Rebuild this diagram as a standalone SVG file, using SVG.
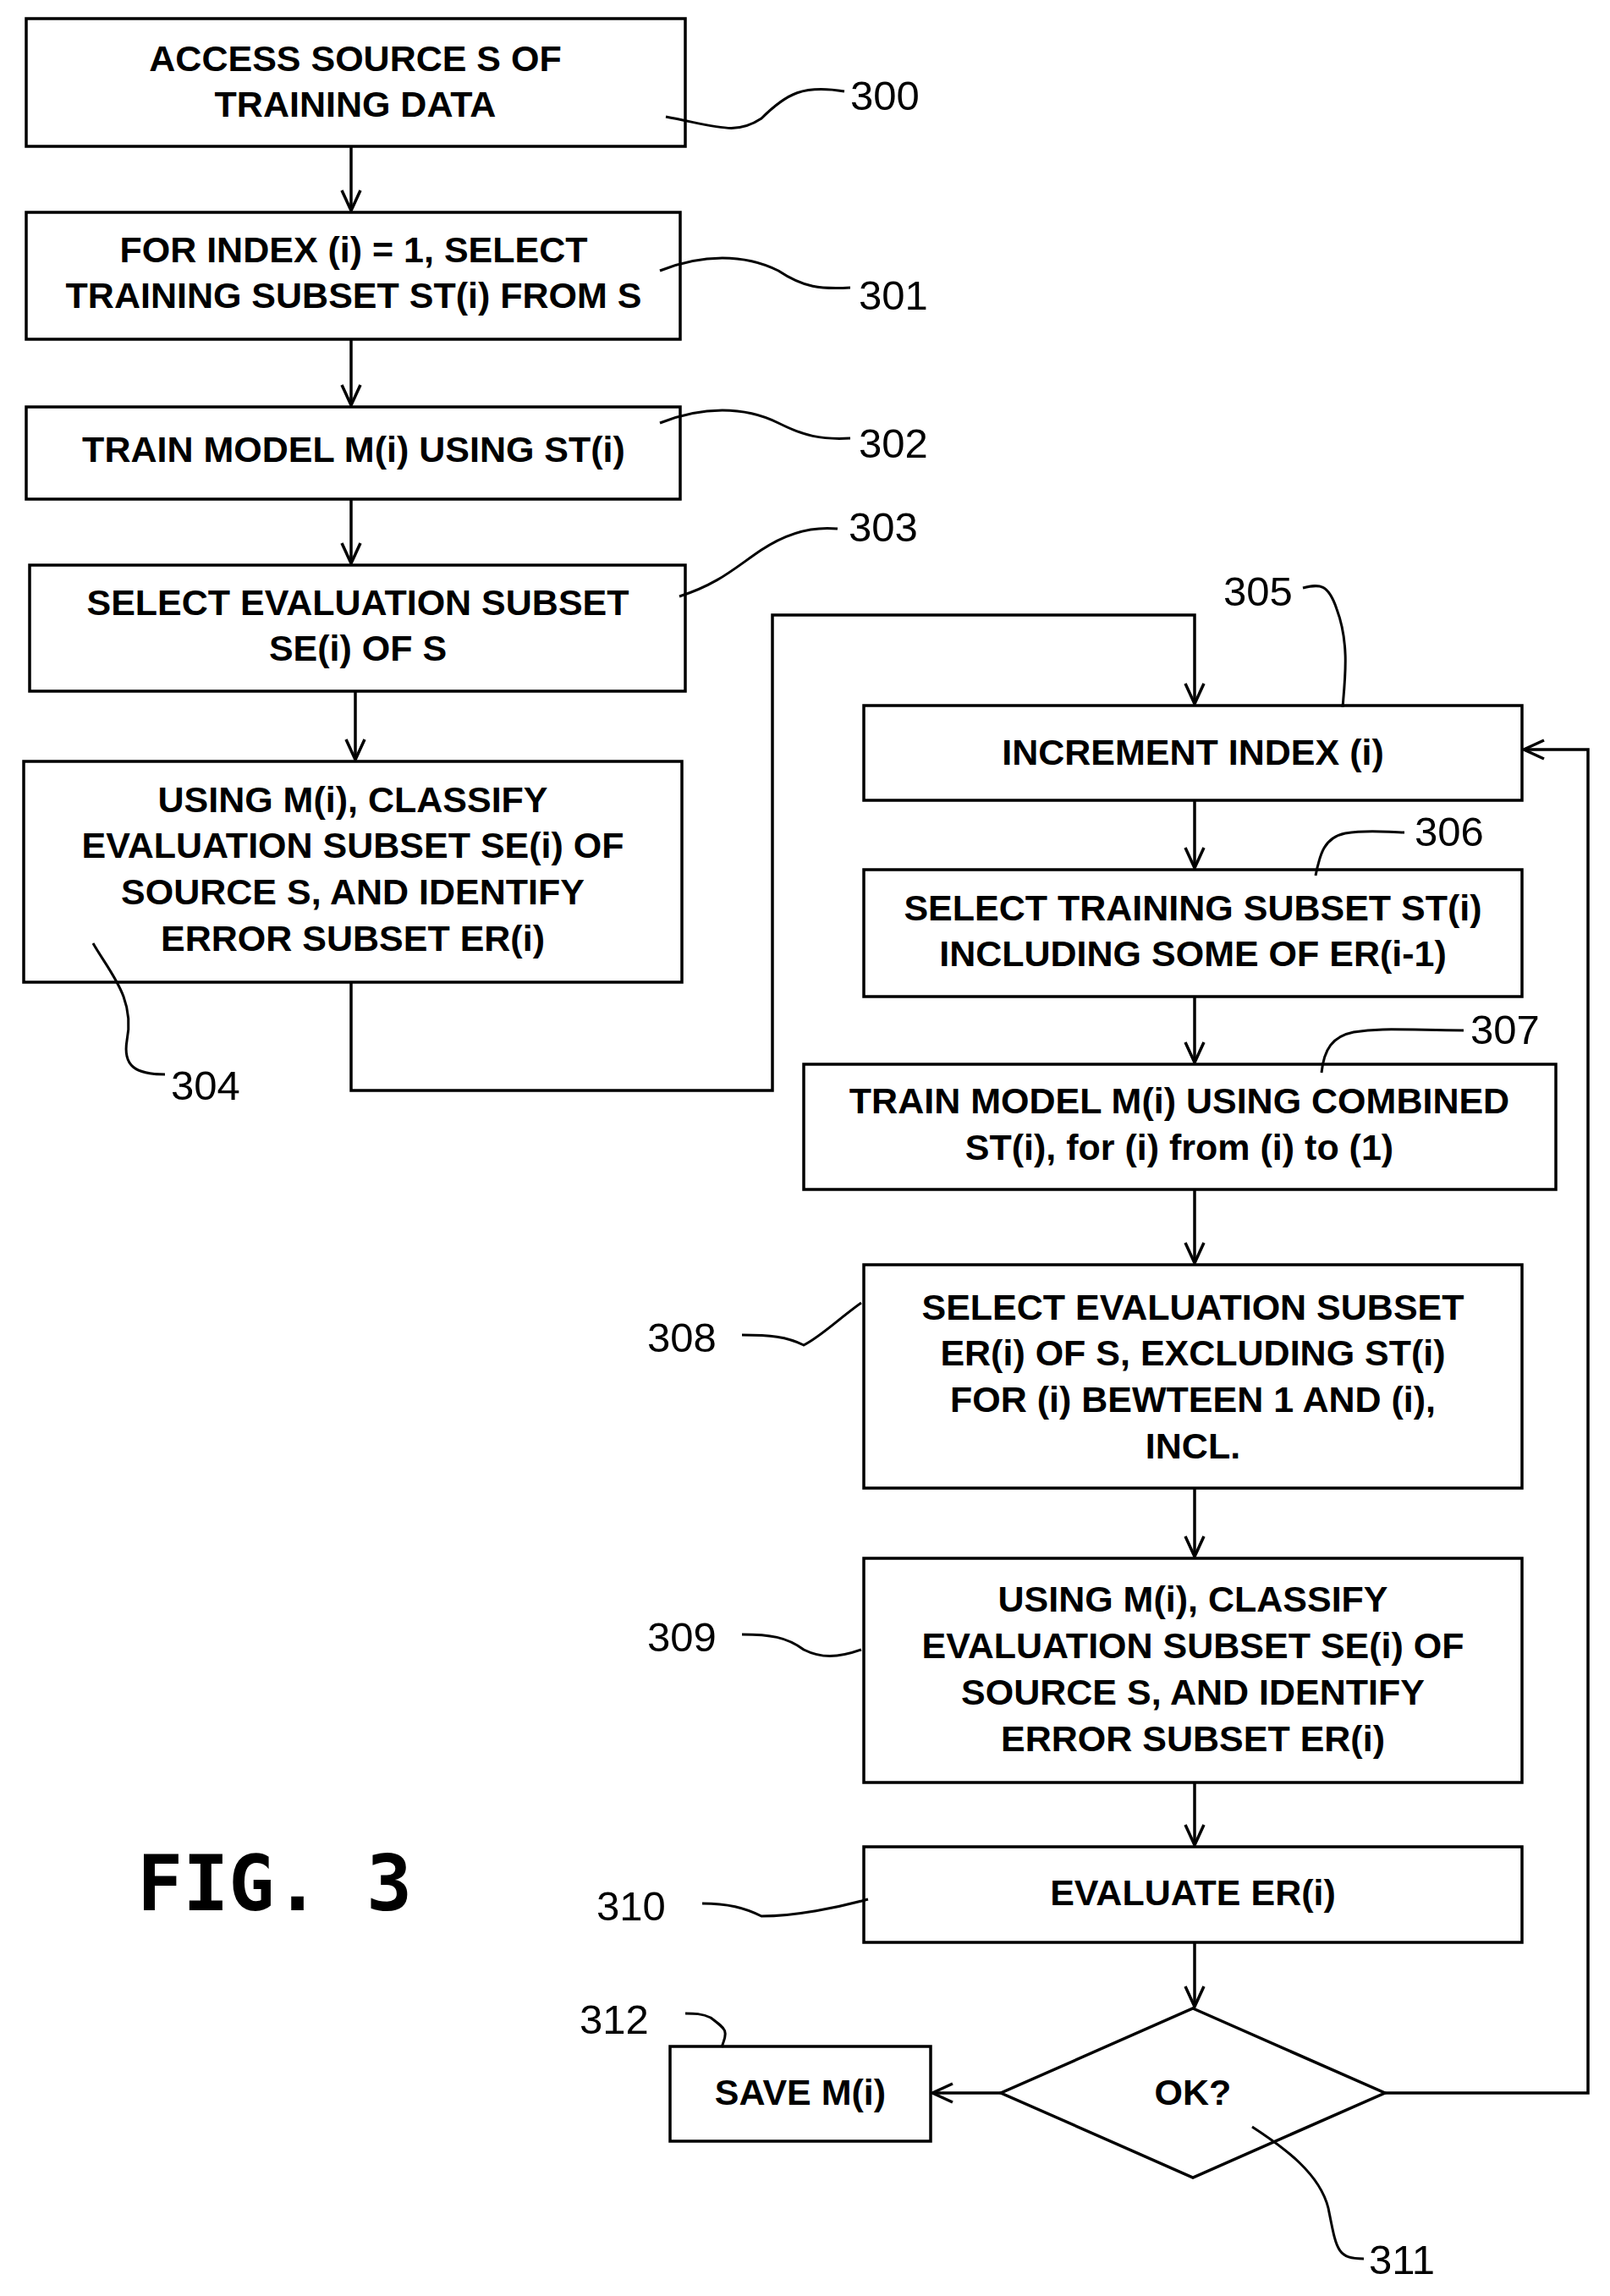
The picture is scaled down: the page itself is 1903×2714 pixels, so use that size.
<svg xmlns="http://www.w3.org/2000/svg" width="1903" height="2714" viewBox="0 0 1903 2714">
<style>
.b{fill:#fff;stroke:#000;stroke-width:3.5}
.t{font-family:"Liberation Sans",Arial,sans-serif;font-weight:bold;font-size:43px;text-anchor:middle}
.l{font-family:"Liberation Sans",Arial,sans-serif;font-size:49px}
.c{fill:none;stroke:#000;stroke-width:3.5}
.q{fill:none;stroke:#000;stroke-width:3}
</style>
<defs>
<marker id="h" markerWidth="30" markerHeight="30" refX="26" refY="13" orient="auto" markerUnits="userSpaceOnUse"><path d="M2,2 L26,13 L2,24" fill="none" stroke="#000" stroke-width="3.5"/></marker></defs>
<rect width="1903" height="2714" fill="#fff"/>
<g id="connectors">
<path class="c" d="M415,173 V249" marker-end="url(#h)"/>
<path class="c" d="M415,401 V479" marker-end="url(#h)"/>
<path class="c" d="M415,590 V666" marker-end="url(#h)"/>
<path class="c" d="M420,817 V898" marker-end="url(#h)"/>
<path class="c" d="M415,1161 V1289 H913 V727 H1412 V832" marker-end="url(#h)"/>
<path class="c" d="M1412,946 V1026" marker-end="url(#h)"/>
<path class="c" d="M1412,1178 V1256" marker-end="url(#h)"/>
<path class="c" d="M1412,1406 V1493" marker-end="url(#h)"/>
<path class="c" d="M1412,1759 V1840" marker-end="url(#h)"/>
<path class="c" d="M1412,2107 V2181" marker-end="url(#h)"/>
<path class="c" d="M1412,2296 V2372" marker-end="url(#h)"/>
<path class="c" d="M1637,2474 H1877 V886 H1801" marker-end="url(#h)"/>
<path class="c" d="M1183,2474 H1102" marker-end="url(#h)"/>
</g>
<g id="n300"><rect class="b" x="31" y="22" width="779" height="151"/><text class="t" x="420" y="84">ACCESS SOURCE S OF</text><text class="t" x="420" y="138">TRAINING DATA</text></g>
<g id="n301"><rect class="b" x="31" y="251" width="773" height="150"/><text class="t" x="418" y="310">FOR INDEX (i) = 1, SELECT</text><text class="t" x="418" y="364">TRAINING SUBSET ST(i) FROM S</text></g>
<g id="n302"><rect class="b" x="31" y="481" width="773" height="109"/><text class="t" x="418" y="546">TRAIN MODEL M(i) USING ST(i)</text></g>
<g id="n303"><rect class="b" x="35" y="668" width="775" height="149"/><text class="t" x="423" y="727">SELECT EVALUATION SUBSET</text><text class="t" x="423" y="781">SE(i) OF S</text></g>
<g id="n304"><rect class="b" x="28" y="900" width="778" height="261"/><text class="t" x="417" y="960">USING M(i), CLASSIFY</text><text class="t" x="417" y="1014">EVALUATION SUBSET SE(i) OF</text><text class="t" x="417" y="1069">SOURCE S, AND IDENTIFY</text><text class="t" x="417" y="1124">ERROR SUBSET ER(i)</text></g>
<g id="n305"><rect class="b" x="1021" y="834" width="778" height="112"/><text class="t" x="1410" y="904">INCREMENT INDEX (i)</text></g>
<g id="n306"><rect class="b" x="1021" y="1028" width="778" height="150"/><text class="t" x="1410" y="1088">SELECT TRAINING SUBSET ST(i)</text><text class="t" x="1410" y="1142">INCLUDING SOME OF ER(i-1)</text></g>
<g id="n307"><rect class="b" x="950" y="1258" width="889" height="148"/><text class="t" x="1394" y="1316">TRAIN MODEL M(i) USING COMBINED</text><text class="t" x="1394" y="1371">ST(i), for (i) from (i) to (1)</text></g>
<g id="n308"><rect class="b" x="1021" y="1495" width="778" height="264"/><text class="t" x="1410" y="1560">SELECT EVALUATION SUBSET</text><text class="t" x="1410" y="1614">ER(i) OF S, EXCLUDING ST(i)</text><text class="t" x="1410" y="1669">FOR (i) BEWTEEN 1 AND (i),</text><text class="t" x="1410" y="1724">INCL.</text></g>
<g id="n309"><rect class="b" x="1021" y="1842" width="778" height="265"/><text class="t" x="1410" y="1905">USING M(i), CLASSIFY</text><text class="t" x="1410" y="1960">EVALUATION SUBSET SE(i) OF</text><text class="t" x="1410" y="2015">SOURCE S, AND IDENTIFY</text><text class="t" x="1410" y="2070">ERROR SUBSET ER(i)</text></g>
<g id="n310"><rect class="b" x="1021" y="2183" width="778" height="113"/><text class="t" x="1410" y="2252">EVALUATE ER(i)</text></g>
<g id="n311"><path class="b" d="M1410,2374 L1637,2474 L1410,2574 L1183,2474 Z"/><text class="t" x="1410" y="2488">OK?</text></g>
<g id="n312"><rect class="b" x="792" y="2419" width="308" height="112"/><text class="t" x="946" y="2488">SAVE M(i)</text></g>
<g id="labels">
<path class="q" d="M787,138 C850,150 870,160 900,140 C930,110 950,100 998,108"/><text class="l" x="1005" y="130">300</text>
<path class="q" d="M780,320 C830,300 880,300 920,320 C950,340 970,342 1005,340"/><text class="l" x="1015" y="366">301</text>
<path class="q" d="M780,500 C830,480 880,480 920,500 C950,515 970,520 1005,518"/><text class="l" x="1015" y="541">302</text>
<path class="q" d="M803,705 C850,690 870,670 900,650 C930,630 960,622 990,625"/><text class="l" x="1003" y="640">303</text>
<path class="q" d="M110,1115 C130,1150 160,1180 150,1230 C145,1260 160,1270 195,1270"/><text class="l" x="202" y="1300">304</text>
<path class="q" d="M1587,836 C1590,800 1595,760 1580,720 C1570,690 1560,690 1540,695"/><text class="l" x="1446" y="716">305</text>
<path class="q" d="M1555,1035 C1560,1010 1565,990 1590,985 C1620,980 1640,984 1660,984"/><text class="l" x="1672" y="1000">306</text>
<path class="q" d="M1562,1268 C1565,1240 1575,1225 1600,1220 C1630,1215 1650,1217 1730,1218"/><text class="l" x="1738" y="1234">307</text>
<path class="q" d="M1018,1540 C990,1560 970,1580 950,1590 C930,1580 910,1578 877,1578"/><text class="l" x="765" y="1598">308</text>
<path class="q" d="M1018,1950 C990,1960 970,1960 950,1950 C930,1935 910,1932 877,1932"/><text class="l" x="765" y="1952">309</text>
<path class="q" d="M1026,2245 C990,2255 940,2265 900,2265 C880,2255 860,2250 830,2250"/><text class="l" x="705" y="2270">310</text>
<path class="q" d="M853,2420 C860,2400 860,2400 840,2385 C830,2380 820,2380 810,2380"/><text class="l" x="685" y="2404">312</text>
<path class="q" d="M1480,2514 C1520,2540 1560,2570 1570,2610 C1580,2660 1580,2670 1612,2670"/><text class="l" x="1618" y="2688">311</text>
</g>
<text x="162" y="2258" font-family="DejaVu Sans Mono,monospace" font-weight="bold" font-size="90">FIG. 3</text>
</svg>
